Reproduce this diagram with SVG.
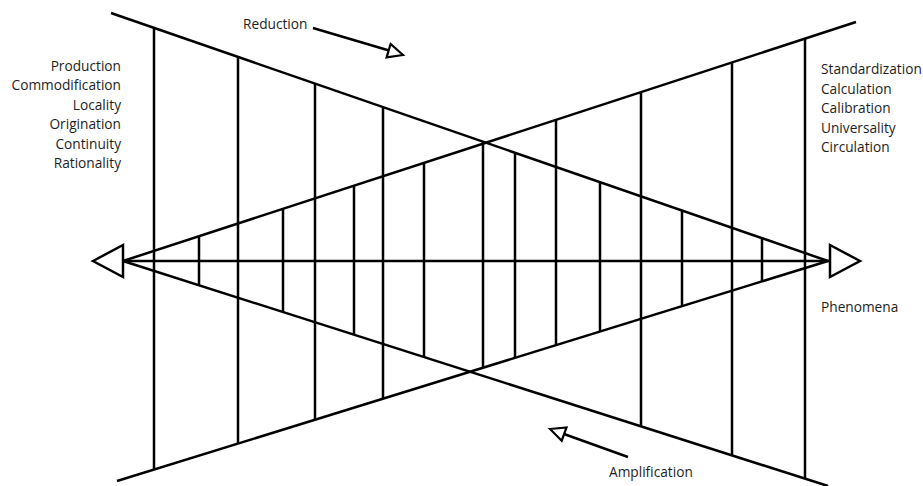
<svg xmlns="http://www.w3.org/2000/svg" width="923" height="486" viewBox="0 0 923 486">
  <style>
    .ln { stroke: #000; stroke-width: 2.5; fill: none; stroke-linecap: butt; }
    .vl { stroke: #000; stroke-width: 2.5; }
    .tri { stroke: #000; stroke-width: 2.5; fill: #fff; stroke-linejoin: miter; }
    .sm { stroke: #000; stroke-width: 2.2; fill: #fff; }
    text { font-family: "Open Sans", "Noto Sans", sans-serif; font-size: 13.7px; fill: #1e1e1e; }
    .r { text-anchor: end; }
  </style>
  <rect width="923" height="486" fill="#fff"/>
  <g id="connectors">
    <g id="diagonals">
      <line class="ln" x1="111" y1="13" x2="828" y2="261"/>
      <line class="ln" x1="123" y1="261" x2="828" y2="486"/>
      <line class="ln" x1="117" y1="481" x2="828" y2="261"/>
      <line class="ln" x1="123" y1="261" x2="856" y2="22"/>
      <line class="ln" x1="123" y1="261" x2="830" y2="261"/>
    </g>
    <g id="verticals">
      <line class="vl" x1="154" y1="27.9" x2="154" y2="469.6"/>
      <line class="vl" x1="238" y1="56.9" x2="238" y2="443.6"/>
      <line class="vl" x1="315" y1="83.5" x2="315" y2="419.7"/>
      <line class="vl" x1="383" y1="107" x2="383" y2="398.7"/>
      <line class="vl" x1="199" y1="236.2" x2="199" y2="285.3"/>
      <line class="vl" x1="283" y1="208.8" x2="283" y2="312.1"/>
      <line class="vl" x1="354" y1="185.2" x2="354" y2="334.7"/>
      <line class="vl" x1="424" y1="162.9" x2="424" y2="357"/>
      <line class="vl" x1="483" y1="141.7" x2="483" y2="367.8"/>
      <line class="vl" x1="515" y1="152.7" x2="515" y2="357.9"/>
      <line class="vl" x1="556" y1="119.4" x2="556" y2="345.2"/>
      <line class="vl" x1="600" y1="182.1" x2="600" y2="331.6"/>
      <line class="vl" x1="641" y1="92.1" x2="641" y2="426.3"/>
      <line class="vl" x1="682" y1="210.5" x2="682" y2="306.2"/>
      <line class="vl" x1="732" y1="62.5" x2="732" y2="455.3"/>
      <line class="vl" x1="762" y1="238.2" x2="762" y2="281.4"/>
      <line class="vl" x1="805" y1="38.7" x2="805" y2="478.6"/>
    </g>
    <polygon id="left-arrow" class="tri" points="93,261 123,245 123,277"/>
    <polygon id="right-arrow" class="tri" points="860,261 830,245 830,277"/>
    <g id="reduction-arrow">
      <line class="ln" x1="313" y1="28" x2="389" y2="50.5"/>
      <polygon class="sm" points="403,55 386.6,57.4 390.6,44"/>
    </g>
    <g id="amplification-arrow">
      <line class="ln" x1="628" y1="457" x2="564" y2="434"/>
      <polygon class="sm" points="550,429 566.5,427.5 561.7,440.7"/>
    </g>
  </g>
  <g id="left-labels">
    <text class="r" x="121" y="70.5">Production</text>
    <text class="r" x="121" y="90">Commodification</text>
    <text class="r" x="121" y="109.5">Locality</text>
    <text class="r" x="121" y="129">Origination</text>
    <text class="r" x="121" y="148.5">Continuity</text>
    <text class="r" x="121" y="168">Rationality</text>
  </g>
  <g id="right-labels">
    <text x="821" y="74">Standardization</text>
    <text x="821" y="93.5">Calculation</text>
    <text x="821" y="113">Calibration</text>
    <text x="821" y="132.5">Universality</text>
    <text x="821" y="152">Circulation</text>
  </g>
  <g id="reduction-label"><text x="243" y="29">Reduction</text></g>
  <g id="amplification-label"><text x="609" y="477">Amplification</text></g>
  <g id="phenomena-label"><text x="821" y="312">Phenomena</text></g>
</svg>
